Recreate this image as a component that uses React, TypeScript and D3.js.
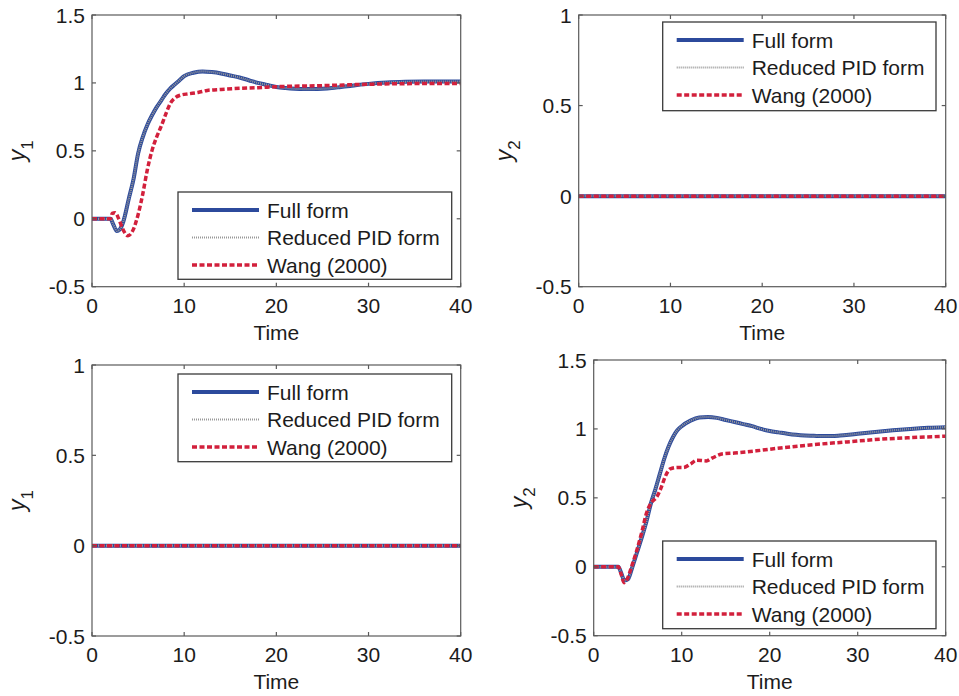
import * as d3 from 'd3'

// time samples and responses
const timeA = [0, 2.0, 2.3, 2.7, 3.0, 3.4, 4.0, 4.5, 5.0, 5.5, 6.0, 6.5, 7.0, 7.5, 8.0, 8.5, 9.0, 9.5, 10, 11, 12, 13, 14, 15, 16, 17, 18, 19, 20, 21, 22, 23, 24, 25, 26, 27, 28, 30, 32, 34, 36, 38, 40]
const fullY1 = [0, 0, -0.04, -0.09, -0.08, -0.02, 0.15, 0.29, 0.48, 0.6, 0.69, 0.76, 0.82, 0.87, 0.92, 0.96, 0.99, 1.02, 1.05, 1.075, 1.085, 1.08, 1.07, 1.055, 1.04, 1.02, 1.0, 0.985, 0.97, 0.962, 0.957, 0.955, 0.955, 0.957, 0.962, 0.97, 0.978, 0.993, 1.003, 1.008, 1.01, 1.01, 1.01]

const timeWangA = [0, 2.0, 2.2, 2.5, 2.9, 3.3, 3.9, 4.4, 5.0, 5.5, 6.0, 6.5, 7.0, 7.5, 8.0, 8.5, 9.0, 9.6, 10.5, 11.5, 12.5, 14, 16, 18, 20, 25, 30, 35, 40]
const wangY1 = [0, 0, 0.04, 0.045, 0.0, -0.07, -0.125, -0.09, 0.03, 0.18, 0.36, 0.5, 0.6, 0.68, 0.77, 0.85, 0.89, 0.91, 0.92, 0.93, 0.945, 0.952, 0.96, 0.965, 0.972, 0.98, 0.99, 0.995, 0.995]

const timeD = [0, 2.8, 3.1, 3.5, 3.9, 4.4, 4.9, 5.5, 6.0, 6.5, 7.0, 7.5, 8.0, 8.5, 9.0, 9.5, 10, 11, 12, 13, 14, 15, 16, 17, 18, 19, 20, 21, 22, 23, 24, 25, 26, 27, 28, 29, 30, 32, 34, 36, 38, 40]
const fullY2 = [0, 0, -0.04, -0.1, -0.09, 0.0, 0.1, 0.22, 0.33, 0.46, 0.56, 0.67, 0.78, 0.87, 0.94, 0.99, 1.02, 1.06, 1.083, 1.087, 1.08, 1.065, 1.05, 1.035, 1.02, 1.0, 0.985, 0.975, 0.965, 0.957, 0.952, 0.95, 0.948, 0.948, 0.952, 0.958, 0.965, 0.978, 0.99, 1.0, 1.008, 1.013]

const timeWangD = [0, 2.8, 3.1, 3.45, 3.8, 4.3, 4.9, 5.5, 6.0, 6.5, 7.2, 7.7, 8.1, 8.7, 9.5, 10.2, 11, 11.7, 12.8, 13.5, 14.7, 16, 17.4, 19, 21.2, 25, 28.8, 32.5, 36, 40]
const wangY2 = [0, 0, -0.05, -0.115, -0.09, 0.0, 0.12, 0.26, 0.39, 0.46, 0.51, 0.58, 0.65, 0.71, 0.72, 0.72, 0.745, 0.773, 0.768, 0.79, 0.82, 0.825, 0.833, 0.845, 0.862, 0.886, 0.906, 0.925, 0.937, 0.947]

// reduced PID form lies on top of the full form
const reducedY1 = fullY1
const reducedY2 = fullY2

// off-diagonal responses stay at zero
const timeZero = [0, 10, 20, 30, 40]
const zeroY = [0, 0, 0, 0, 0]

const xTicks = [0, 10, 20, 30, 40]
const yTicksWide = [-0.5, 0, 0.5, 1, 1.5]
const yTicksNarrow = [-0.5, 0, 0.5, 1]
const legendLabels = ['Full form', 'Reduced PID form', 'Wang (2000)']

const FONT = '"Liberation Sans", Arial, Helvetica, sans-serif'
const TEXT = '#1c1c1c'
const AXIS = '#5a5a5a'
const BLUE = '#2c4a9c'
const GRAY = '#999999'
const RED = '#d2203c'

const seriesStyles = [
  { color: BLUE, width: 4, dash: null },
  { color: GRAY, width: 2.2, dash: '1,1' },
  { color: RED, width: 3.5, dash: '5,2.5' },
]

const panels = [
  {
    key: 'a', left: 92, right: 460.7, top: 15, bottom: 286.7,
    yDomain: [-0.5, 1.5], yTicks: yTicksWide, sub: '1',
    legend: { x: 178, y: 192, w: 273.7, h: 87.3 },
    series: [[timeA, fullY1], [timeA, reducedY1], [timeWangA, wangY1]],
  },
  {
    key: 'b', left: 578.7, right: 945.7, top: 15, bottom: 286.7,
    yDomain: [-0.5, 1], yTicks: yTicksNarrow, sub: '2',
    legend: { x: 662.7, y: 22, w: 273.3, h: 88.7 },
    series: [[timeZero, zeroY], [timeZero, zeroY], [timeZero, zeroY]],
  },
  {
    key: 'c', left: 92, right: 460.7, top: 365, bottom: 636,
    yDomain: [-0.5, 1], yTicks: yTicksNarrow, sub: '1',
    legend: { x: 178, y: 374, w: 273.7, h: 87.7 },
    series: [[timeZero, zeroY], [timeZero, zeroY], [timeZero, zeroY]],
  },
  {
    key: 'd', left: 593.7, right: 945.7, top: 360, bottom: 635.7,
    yDomain: [-0.5, 1.5], yTicks: yTicksWide, sub: '2',
    legend: { x: 662.7, y: 541, w: 273.3, h: 87.7 },
    series: [[timeD, fullY2], [timeD, reducedY2], [timeWangD, wangY2]],
  },
]

function Panel({ p }: { p: any }) {
  const x = d3.scaleLinear().domain([0, 40]).range([p.left, p.right])
  const y = d3.scaleLinear().domain(p.yDomain).range([p.bottom, p.top])
  const line = d3.line<[number, number]>()
    .x(d => x(d[0]))
    .y(d => y(d[1]))
    .curve(d3.curveMonotoneX)
  const tickLen = 4
  const midY = (p.top + p.bottom) / 2

  return (
    <g>
      <rect x={p.left} y={p.top} width={p.right - p.left} height={p.bottom - p.top} fill="#fff" />
      {p.series.map((s: any, i: number) => {
        const pts = s[0].map((t: number, j: number) => [t, s[1][j]] as [number, number])
        const st = seriesStyles[i]
        return (
          <path key={i} d={line(pts) || ''} fill="none" stroke={st.color}
            strokeWidth={st.width} strokeDasharray={st.dash || undefined} strokeLinejoin="round" />
        )
      })}
      <rect x={p.left} y={p.top} width={p.right - p.left} height={p.bottom - p.top}
        fill="none" stroke={AXIS} strokeWidth={1.2} />
      {xTicks.map(t => (
        <g key={'x' + t}>
          <line x1={x(t)} x2={x(t)} y1={p.bottom} y2={p.bottom - tickLen} stroke={AXIS} strokeWidth={1.2} />
          <line x1={x(t)} x2={x(t)} y1={p.top} y2={p.top + tickLen} stroke={AXIS} strokeWidth={1.2} />
          <text x={x(t)} y={p.bottom + 26} textAnchor="middle" fontSize={21} fill={TEXT}>{t}</text>
        </g>
      ))}
      {p.yTicks.map((v: number) => (
        <g key={'y' + v}>
          <line x1={p.left} x2={p.left + tickLen} y1={y(v)} y2={y(v)} stroke={AXIS} strokeWidth={1.2} />
          <line x1={p.right} x2={p.right - tickLen} y1={y(v)} y2={y(v)} stroke={AXIS} strokeWidth={1.2} />
          <text x={p.left - 7} y={y(v)} dy="0.36em" textAnchor="end" fontSize={21} fill={TEXT}>{String(v)}</text>
        </g>
      ))}
      <text x={(p.left + p.right) / 2} y={p.bottom + 53} textAnchor="middle" fontSize={21} fill={TEXT}>Time</text>
      <text transform={`translate(${p.left - 67},${midY}) rotate(-90)`} textAnchor="middle" fill={TEXT}>
        <tspan fontSize={23} fontStyle="italic">y</tspan>
        <tspan fontSize={17} dy={8}>{p.sub}</tspan>
      </text>
      <g>
        <rect x={p.legend.x} y={p.legend.y} width={p.legend.w} height={p.legend.h}
          fill="#fff" stroke="#3a3a3a" strokeWidth={1.3} />
        {legendLabels.map((lab, i) => {
          const cy = p.legend.y + 18 + i * 27.5
          const st = seriesStyles[i]
          return (
            <g key={lab}>
              <line x1={p.legend.x + 14} x2={p.legend.x + 81} y1={cy} y2={cy} stroke={st.color}
                strokeWidth={st.width} strokeDasharray={st.dash || undefined} />
              <text x={p.legend.x + 89} y={cy} dy="0.36em" fontSize={21} fill={TEXT}>{lab}</text>
            </g>
          )
        })}
      </g>
    </g>
  )
}

export default function App() {
  return (
    <svg width={959} height={696} style={{ position: 'absolute', left: 0, top: 0, background: '#fff' }}
      fontFamily={FONT}>
      <rect width={959} height={696} fill="#fff" />
      {panels.map(p => <Panel key={p.key} p={p} />)}
    </svg>
  )
}
